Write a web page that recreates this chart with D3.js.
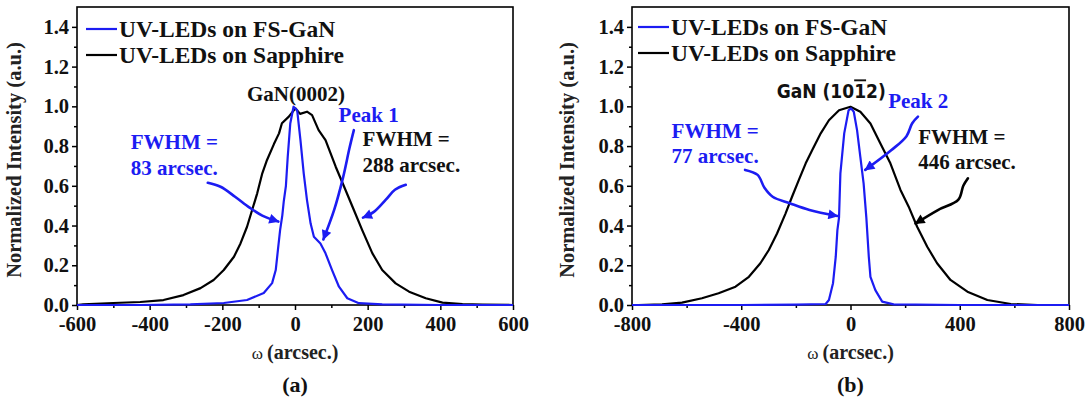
<!DOCTYPE html>
<html><head><meta charset="utf-8">
<script src="https://cdn.jsdelivr.net/npm/d3@7"></script>
<style>body{margin:0;background:#fff}svg{display:block}
.serif{font-family:"Liberation Serif","DejaVu Serif","Noto Serif",Times,serif;font-weight:bold}
.narrow{font-family:"Liberation Sans Narrow","DejaVu Sans Condensed","Liberation Sans",sans-serif;font-weight:bold}
</style>
</head><body>
<svg id="c" width="1089" height="399"></svg>
<script>
// ---------- data ----------
const seriesNames = ["UV-LEDs on FS-GaN", "UV-LEDs on Sapphire"];
const yTicks = [0, 0.2, 0.4, 0.6, 0.8, 1.0, 1.2, 1.4];
const yMinorTicks = [0.1, 0.3, 0.5, 0.7, 0.9, 1.1, 1.3];
const xTicksA = [-600, -400, -200, 0, 200, 400, 600];
const xMinorA = [-500, -300, -100, 100, 300, 500];
const xTicksB = [-800, -400, 0, 400, 800];
const xMinorB = [-600, -200, 200, 600];

// panel (a): GaN(0002)
const aSapX = [-600,-583,-500,-426,-362,-307,-260,-224,-196,-168,-150,-132,-118,-104,-90,-77,-58,-44,-36,-17,1,14,33,47,65,84,112,139,162,185,213,240,277,314,360,406,461,516,600];
const aSapY = [0.0,0.003,0.01,0.015,0.025,0.05,0.085,0.126,0.176,0.243,0.31,0.394,0.478,0.562,0.663,0.73,0.81,0.864,0.915,0.948,0.99,0.962,0.973,0.956,0.88,0.83,0.696,0.579,0.478,0.377,0.26,0.176,0.109,0.067,0.034,0.012,0.005,0.002,0.0];
const aFsX = [-600,-500,-426,-288,-196,-132,-86,-63,-53,-47,-41,-35,-31,-25,-20,-13,-4,6,15,24,33,43,52,70,84,102,121,144,176,240,400,600];
const aFsY = [0.0,0.0,0.0,0.003,0.01,0.025,0.06,0.11,0.176,0.277,0.377,0.45,0.52,0.6,0.746,0.914,0.998,0.98,0.83,0.663,0.528,0.41,0.344,0.31,0.26,0.176,0.092,0.034,0.009,0.003,0.0,0.0];

// panel (b): GaN(10-12)
const bSapX = [-800,-776,-690,-617,-544,-483,-421,-372,-330,-299,-269,-238,-214,-189,-164,-140,-109,-79,-42,0,36,73,109,146,183,213,244,281,317,366,428,501,587,685,800];
const bSapY = [0.0,0.0,0.003,0.012,0.034,0.059,0.092,0.142,0.21,0.277,0.36,0.46,0.545,0.63,0.713,0.78,0.864,0.93,0.98,0.998,0.973,0.914,0.814,0.713,0.579,0.495,0.394,0.293,0.21,0.126,0.067,0.025,0.005,0.0,0.0];
const bFsX = [-800,-400,-200,-91,-79,-64,-54,-48,-42,-37,-23,-7,2,12,24,36,48,58,67,73,91,116,158,400,800];
const bFsY = [0,0,0.002,0.005,0.025,0.11,0.243,0.377,0.44,0.663,0.864,0.98,0.99,0.973,0.88,0.746,0.612,0.44,0.243,0.142,0.075,0.017,0.003,0,0];

// ---------- layout / style ----------
const BLUE = "#1c1cf2";
const svg = d3.select("#c");
svg.append("rect").attr("width",1089).attr("height",399).attr("fill","#fff");

const defs = svg.append("defs");
function marker(id, color){
  defs.append("marker").attr("id",id).attr("viewBox","0 0 10 10")
    .attr("refX",9).attr("refY",5).attr("markerWidth",13).attr("markerHeight",10)
    .attr("markerUnits","userSpaceOnUse").attr("orient","auto")
    .append("path").attr("d","M0,0 L10,5 L0,10 Z").attr("fill",color);
}
marker("ahBlue", BLUE); marker("ahBlack", "#000");

const fmtX = d => String(d);          // plain hyphen-minus like the reference
const fmtY = d => d.toFixed(1);

function drawPanel(cfg){
  const x = d3.scaleLinear().domain(cfg.xDomain).range([cfg.left, cfg.right]);
  const y = d3.scaleLinear().domain([0, 1.5]).range([305, 7]);
  const g = svg.append("g");

  g.append("g").attr("transform","translate(0,305)")
    .call(d3.axisBottom(x).tickValues(cfg.xTicks).tickFormat(fmtX).tickSize(5).tickPadding(6));
  g.append("g").attr("transform","translate(0,305)")
    .call(d3.axisBottom(x).tickValues(cfg.xMinor).tickFormat("").tickSize(3));
  g.append("g").attr("transform",`translate(${cfg.left},0)`)
    .call(d3.axisLeft(y).tickValues(yTicks).tickFormat(fmtY).tickSize(5).tickPadding(3));
  g.append("g").attr("transform",`translate(${cfg.left},0)`)
    .call(d3.axisLeft(y).tickValues(yMinorTicks).tickFormat("").tickSize(3));
  g.selectAll(".tick line").attr("stroke","#000").attr("stroke-width",1.5);
  g.selectAll(".domain").remove();
  g.selectAll(".tick text").attr("class","serif").attr("font-family",null)
    .attr("font-size",20.5).attr("fill","#111");

  g.append("rect").attr("x",cfg.left).attr("y",y(1.5)).attr("width",cfg.right-cfg.left)
    .attr("height",y(0)-y(1.5)).attr("fill","none").attr("stroke","#000").attr("stroke-width",1.6);

  const line = d3.line().x(d=>x(d[0])).y(d=>y(d[1])).curve(d3.curveLinear);
  g.append("path").datum(d3.zip(cfg.sapX,cfg.sapY)).attr("d",line)
    .attr("fill","none").attr("stroke","#000").attr("stroke-width",2.2).attr("stroke-linejoin","round");
  g.append("path").datum(d3.zip(cfg.fsX,cfg.fsY)).attr("d",line)
    .attr("fill","none").attr("stroke",BLUE).attr("stroke-width",2.2).attr("stroke-linejoin","round");

  const lg = [[seriesNames[0],BLUE,cfg.legY[0]],[seriesNames[1],"#000",cfg.legY[1]]];
  lg.forEach(([name,col,ly])=>{
    g.append("line").attr("x1",cfg.legX).attr("x2",cfg.legX+31).attr("y1",ly).attr("y2",ly)
      .attr("stroke",col).attr("stroke-width",2.2);
    g.append("text").attr("class","serif").attr("x",cfg.legX+33).attr("y",ly+8).text(name)
      .attr("font-size",23.5).attr("fill","#111");
  });

  const cx = (cfg.left+cfg.right)/2;
  const xt = g.append("text").attr("class","serif").attr("x",cx).attr("y",359).attr("text-anchor","middle")
    .attr("font-size",20).attr("fill","#222");
  xt.append("tspan").attr("font-weight","normal").attr("font-size",17).text("ω ");
  xt.append("tspan").text("(arcsec.)");
  g.append("text").attr("class","serif").attr("transform",`translate(${cfg.yTitleX},160) rotate(-90)`)
    .attr("text-anchor","middle").attr("font-size",20.5).attr("fill","#222")
    .text("Normalized Intensity (a.u.)");
  g.append("text").attr("class","serif").attr("x",cx).attr("y",392).attr("text-anchor","middle")
    .attr("font-size",22).attr("fill","#111").text(cfg.panel);

  cfg.texts.forEach(t=>{
    const el = g.append("text").attr("class",t.cls||"serif").attr("x",x(t.x)).attr("y",y(t.y))
      .attr("fill",t.color).attr("font-size",t.size||21).attr("text-anchor",t.anchor||"start");
    if (t.parts) t.parts.forEach(p=>{ const ts=el.append("tspan").text(p.s); if(p.over) ts.attr("text-decoration","overline"); });
    else el.text(t.s);
  });
  const aline = d3.line().x(d=>x(d[0])).y(d=>y(d[1])).curve(d3.curveCatmullRom.alpha(0.5));
  cfg.arrows.forEach(a=>{
    g.append("path").datum(a.pts).attr("d",aline).attr("fill","none").attr("stroke",a.color)
      .attr("stroke-width",2.6).attr("stroke-linecap","round")
      .attr("marker-end",`url(#${a.color===BLUE?"ahBlue":"ahBlack"})`);
  });
}

drawPanel({
  panel:"(a)", left:77, right:513, xDomain:[-600,600], xTicks:xTicksA, xMinor:xMinorA,
  sapX:aSapX, sapY:aSapY, fsX:aFsX, fsY:aFsY, legX:86, legY:[29,55], yTitleX:21,
  texts:[
    {s:"GaN(0002)", x:-132, y:1.025, color:"#111", size:21},
    {s:"FWHM =", x:-452, y:0.785, color:BLUE},
    {s:"83 arcsec.", x:-452, y:0.655, color:BLUE},
    {s:"Peak 1", x:120, y:0.92, color:BLUE},
    {s:"FWHM =", x:186, y:0.8, color:"#111"},
    {s:"288 arcsec.", x:186, y:0.67, color:"#111"}
  ],
  arrows:[
    {color:BLUE, pts:[[-240,0.615],[-205,0.595],[-165,0.545],[-125,0.49],[-90,0.45],[-46,0.42]]},
    {color:BLUE, pts:[[162,0.88],[150,0.79],[132,0.64],[108,0.48],[78,0.33]]},
    {color:BLUE, pts:[[305,0.605],[275,0.58],[250,0.53],[218,0.47],[187,0.44]]}
  ]
});

drawPanel({
  panel:"(b)", left:632, right:1069, xDomain:[-800,800], xTicks:xTicksB, xMinor:xMinorB,
  sapX:bSapX, sapY:bSapY, fsX:bFsX, fsY:bFsY, legX:638, legY:[27,53], yTitleX:574,
  texts:[
    {x:-270, y:1.04, color:"#111", size:19, cls:"narrow",
     parts:[{s:"GaN (10"},{s:"1",over:true},{s:"2)"}]},
    {s:"FWHM =", x:-655, y:0.84, color:BLUE},
    {s:"77 arcsec.", x:-655, y:0.715, color:BLUE},
    {s:"Peak 2", x:138, y:0.99, color:BLUE},
    {s:"FWHM =", x:248, y:0.81, color:"#111"},
    {s:"446 arcsec.", x:248, y:0.685, color:"#111"}
  ],
  arrows:[
    {color:BLUE, pts:[[-386,0.68],[-340,0.655],[-315,0.59],[-285,0.545],[-222,0.512],[-150,0.478],[-48,0.448]]},
    {color:BLUE, pts:[[247,0.948],[226,0.915],[205,0.85],[150,0.78],[54,0.68]]},
    {color:"#000", pts:[[430,0.638],[413,0.6],[395,0.53],[320,0.478],[238,0.41]]}
  ]
});
</script>
</body></html>
